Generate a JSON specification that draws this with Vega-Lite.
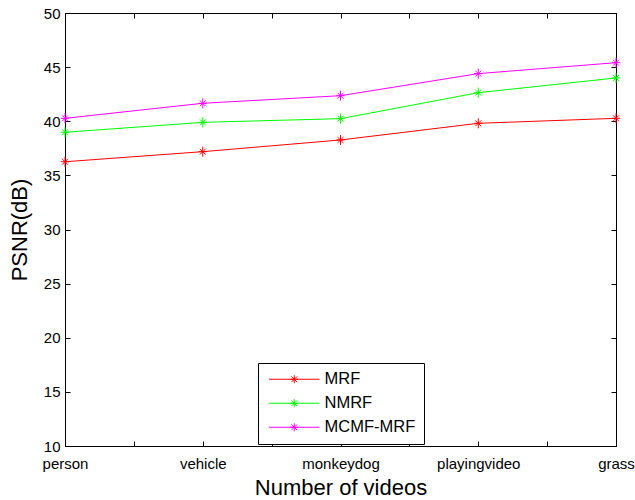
{
  "$schema": "https://vega.github.io/schema/vega-lite/v6.json",
  "width": 551,
  "height": 433,
  "autosize": {"type": "none"},
  "padding": {"left": 65, "top": 13, "right": 19, "bottom": 54},
  "background": "white",
  "config": {
    "font": "Liberation Sans",
    "view": {"stroke": null},
    "axis": {"domainColor": "black", "tickColor": "black", "labelColor": "black", "titleColor": "black", "grid": false, "domainWidth": 1, "tickWidth": 1, "labelFont": "Liberation Sans", "titleFont": "Liberation Sans", "titleFontWeight": "normal"}
  },
  "data": {
    "values": [
      {"video": "person", "method": "MRF", "psnr": 36.26},
      {"video": "vehicle", "method": "MRF", "psnr": 37.19},
      {"video": "monkeydog", "method": "MRF", "psnr": 38.27},
      {"video": "playingvideo", "method": "MRF", "psnr": 39.81},
      {"video": "grass", "method": "MRF", "psnr": 40.27},
      {"video": "person", "method": "NMRF", "psnr": 38.98},
      {"video": "vehicle", "method": "NMRF", "psnr": 39.9},
      {"video": "monkeydog", "method": "NMRF", "psnr": 40.24},
      {"video": "playingvideo", "method": "NMRF", "psnr": 42.64},
      {"video": "grass", "method": "NMRF", "psnr": 44.0},
      {"video": "person", "method": "MCMF-MRF", "psnr": 40.27},
      {"video": "vehicle", "method": "MCMF-MRF", "psnr": 41.66},
      {"video": "monkeydog", "method": "MCMF-MRF", "psnr": 42.36},
      {"video": "playingvideo", "method": "MCMF-MRF", "psnr": 44.4},
      {"video": "grass", "method": "MCMF-MRF", "psnr": 45.41}
    ]
  },
  "layer": [
    {
      "mark": {"type": "line", "strokeWidth": 1},
      "encoding": {
        "x": {
          "field": "video", "type": "ordinal",
          "scale": {"type": "point", "domain": ["person", "_1", "vehicle", "_2", "monkeydog", "_3", "playingvideo", "_4", "grass"], "padding": 0},
          "axis": {"orient": "bottom", "title": "Number of videos", "titleFontSize": 22, "titlePadding": 6, "labelFontSize": 15, "labelAngle": 0, "labelExpr": "length(datum.label) < 3 ? '' : datum.label", "tickSize": -5, "labelPadding": 15, "labelFlush": false, "labelOverlap": false, "labelBound": false}
        },
        "y": {
          "field": "psnr", "type": "quantitative",
          "scale": {"domain": [10, 50], "nice": false, "zero": false},
          "axis": {"orient": "left", "title": "PSNR(dB)", "titleFontSize": 22, "titlePadding": 12, "labelFontSize": 15, "values": [10, 15, 20, 25, 30, 35, 40, 45, 50], "tickSize": -5, "labelPadding": 10, "labelFlush": false, "labelOverlap": false, "labelBound": false}
        },
        "color": {
          "field": "method", "type": "nominal",
          "scale": {"domain": ["MRF", "NMRF", "MCMF-MRF"], "range": ["#ff0000", "#00ff00", "#ff00ff"]},
          "legend": {"title": null, "orient": "none", "legendX": 193, "legendY": 350, "direction": "vertical", "strokeColor": "black", "fillColor": "white", "padding": 8, "cornerRadius": 0, "symbolType": "M-6.3,0L6.3,0M0,-1L0,1M-1,0L1,0M-0.7,-0.7L0.7,0.7M-0.7,0.7L0.7,-0.7", "symbolSize": 64, "symbolStrokeWidth": 1, "symbolFillColor": "transparent", "symbolOffset": 20, "labelOffset": 22, "labelFontSize": 16.5, "labelFont": "Liberation Sans", "labelColor": "black", "rowPadding": 7, "labelLimit": 200}
        }
      }
    },
    {
      "mark": {"type": "point", "shape": "M-1,0L1,0M0,-1.2L0,1.2M-0.7,-0.7L0.7,0.7M-0.7,0.7L0.7,-0.7", "filled": false, "size": 70, "strokeWidth": 1, "opacity": 1},
      "encoding": {
        "x": {
          "field": "video", "type": "ordinal",
          "axis": {"orient": "top", "title": null, "labels": false, "tickSize": -5}
        },
        "y": {
          "field": "psnr", "type": "quantitative",
          "axis": {"orient": "right", "title": null, "labels": false, "values": [10, 15, 20, 25, 30, 35, 40, 45, 50], "tickSize": -5}
        },
        "color": {
          "field": "method", "type": "nominal",
          "legend": {"title": null, "orient": "none", "legendX": 193, "legendY": 350, "direction": "vertical", "strokeColor": "black", "fillColor": "white", "padding": 8, "cornerRadius": 0, "symbolType": "M-6.3,0L6.3,0M0,-1L0,1M-1,0L1,0M-0.7,-0.7L0.7,0.7M-0.7,0.7L0.7,-0.7", "symbolSize": 64, "symbolStrokeWidth": 1, "symbolFillColor": "transparent", "symbolOffset": 20, "labelOffset": 22, "labelFontSize": 16.5, "labelFont": "Liberation Sans", "labelColor": "black", "rowPadding": 7, "labelLimit": 200}
        }
      }
    }
  ],
  "resolve": {"axis": {"x": "independent", "y": "independent"}}
}
